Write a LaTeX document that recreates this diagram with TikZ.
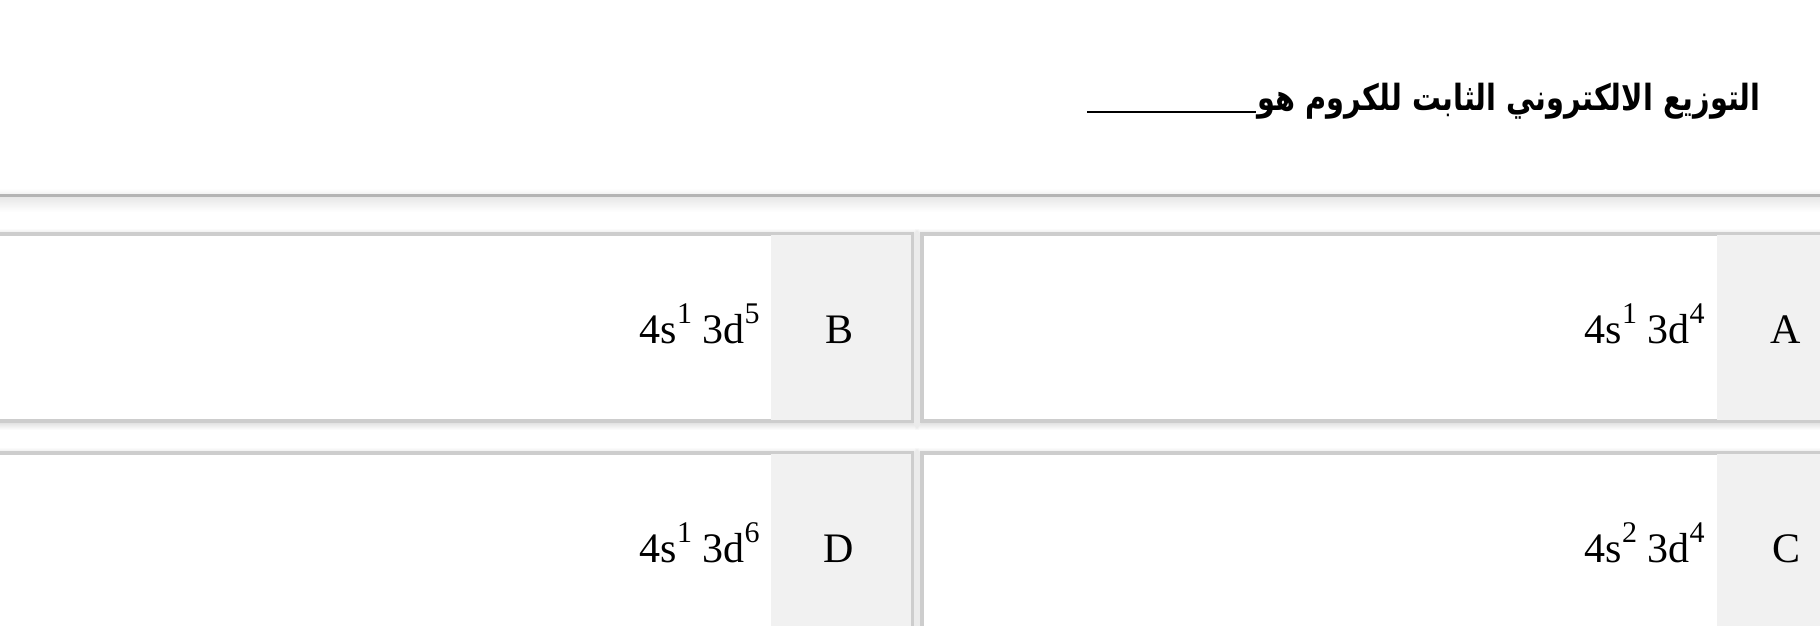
\documentclass[tikz,border=0pt]{standalone}
\usepackage{fontspec}
\setmainfont{Liberation Serif}
\TeXXeTstate=1
\newfontfamily\arabicfont[Script=Arabic]{DejaVu Sans}
\definecolor{bordergray}{HTML}{CDCDCD}
\definecolor{colgray}{HTML}{F1F1F1}
\definecolor{sepgray}{HTML}{B4B4B4}
\newcommand{\supx}[1]{\raisebox{10pt}{\fontsize{15}{15}\selectfont #1}}
\tikzset{
  optbox/.style={fill=white, draw=bordergray, line width=2pt},
  opttext/.style={font=\fontsize{21}{25}\selectfont, inner sep=0pt, anchor=base east},
  lettertext/.style={font=\fontsize{21}{25}\selectfont, inner sep=0pt, anchor=base},
  titletext/.style={font=\arabicfont\bfseries\fontsize{18}{21}\selectfont, inner sep=0pt, anchor=base east}
}
\newcommand{\shadowrect}[4]{%
  \foreach \k in {1,...,7}{
    \fill[black, opacity=0.017] ([xshift=-\k*0.5pt, yshift=\k*0.5pt-1pt]#1,#2) rectangle ([xshift=\k*0.5pt, yshift=-\k*0.5pt-1pt]#3,#4);
  }}
\begin{document}
\begin{tikzpicture}[x=0.5pt,y=-0.5pt]
\useasboundingbox (0,0) rectangle (1820,626);
\clip (0,0) rectangle (1820,626);
\fill[white] (0,0) rectangle (1820,626);
% header separator with shadow
\shade[top color=black!10, bottom color=white] (0,196) rectangle (1820,212);
\shade[top color=white, bottom color=black!5] (0,188) rectangle (1820,194);
\draw[sepgray, line width=1.5pt] (0,195) -- (1820,195);
% title
\node[titletext] (title) at (1761,111) {\scalebox{0.80}[1]{\beginR التوزيع الالكتروني الثابت للكروم هو\endR}};
\coordinate (ulL) at (1087,112);
\coordinate (ulR) at (1256,112);
\draw[black, line width=1.2pt] (ulL) -- (ulR);
% shadows
\shadowrect{-20}{234}{912}{421}
\shadowrect{922}{234}{1840}{421}
\shadowrect{-20}{453}{912}{660}
\shadowrect{922}{453}{1840}{660}
% boxes
\draw[optbox] (-20,234) rectangle (912,421);
\draw[optbox] (922,234) rectangle (1840,421);
\draw[optbox] (-20,453) rectangle (912,660);
\draw[optbox] (922,453) rectangle (1840,660);
% letter columns
\fill[colgray] (771,235) rectangle (911,420);
\fill[colgray] (1717,235) rectangle (1840,420);
\fill[colgray] (771,454) rectangle (911,660);
\fill[colgray] (1717,454) rectangle (1840,660);
% texts
\node[opttext] (tA) at (1705,343) {4s\supx{1} 3d\supx{4}};
\node[lettertext] (lA) at (1786,343) {A};
\node[opttext] (tB) at (760,343) {4s\supx{1} 3d\supx{5}};
\node[lettertext] (lB) at (839,343) {B};
\node[opttext] (tC) at (1705,562) {4s\supx{2} 3d\supx{4}};
\node[lettertext] (lC) at (1786,562) {C};
\node[opttext] (tD) at (760,562) {4s\supx{1} 3d\supx{6}};
\node[lettertext] (lD) at (839,562) {D};
\end{tikzpicture}
\end{document}
